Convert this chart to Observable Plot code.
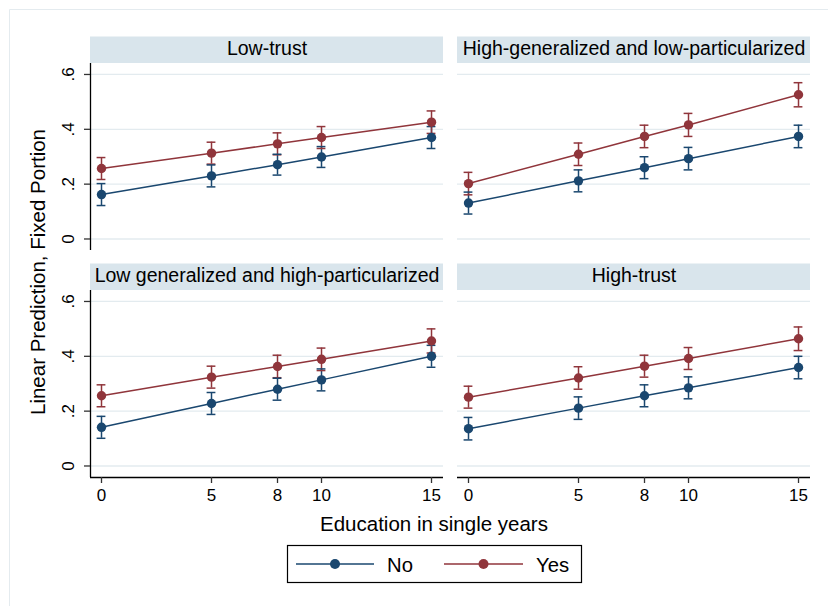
<!DOCTYPE html>
<html>
<head>
<meta charset="utf-8">
<script src="https://cdn.jsdelivr.net/npm/d3@7"></script>
<script src="https://cdn.jsdelivr.net/npm/@observablehq/plot@0.6"></script>
<style>
  html, body { margin: 0; padding: 0; background: #fff; }
  #chart { width: 828px; height: 606px; overflow: hidden; }
</style>
</head>
<body>
<div id="chart"></div>
<script>
// ---- data ----
const panelNames = [
  "Low-trust",
  "High-generalized and low-particularized",
  "Low generalized and high-particularized",
  "High-trust"
];
const education = [0, 5, 8, 10, 15];
const xTicks = [0, 5, 8, 10, 15];
const yTicks = [0, 0.2, 0.4, 0.6];
const yTickLabels = ["0", ".2", ".4", ".6"];
const groups = ["No", "Yes"];

// predicted values per panel, No / Yes
const lowTrustNo  = [0.162, 0.230, 0.271, 0.299, 0.370];
const lowTrustYes = [0.257, 0.313, 0.347, 0.370, 0.426];
const highGenNo   = [0.131, 0.212, 0.260, 0.293, 0.374];
const highGenYes  = [0.202, 0.309, 0.374, 0.416, 0.526];
const lowGenNo    = [0.141, 0.228, 0.280, 0.314, 0.400];
const lowGenYes   = [0.256, 0.324, 0.363, 0.389, 0.456];
const highTrustNo = [0.136, 0.211, 0.256, 0.285, 0.359];
const highTrustYes= [0.251, 0.321, 0.364, 0.392, 0.464];

// 95% CI half-widths
const lowTrustNoCI  = [0.040, 0.040, 0.038, 0.038, 0.040];
const lowTrustYesCI = [0.040, 0.040, 0.040, 0.040, 0.041];
const highGenNoCI   = [0.040, 0.040, 0.040, 0.041, 0.041];
const highGenYesCI  = [0.041, 0.041, 0.041, 0.042, 0.044];
const lowGenNoCI    = [0.040, 0.040, 0.040, 0.040, 0.040];
const lowGenYesCI   = [0.040, 0.040, 0.041, 0.041, 0.044];
const highTrustNoCI = [0.041, 0.041, 0.040, 0.040, 0.041];
const highTrustYesCI= [0.040, 0.041, 0.040, 0.040, 0.043];

const series = [
  [lowTrustNo, lowTrustYes],
  [highGenNo, highGenYes],
  [lowGenNo, lowGenYes],
  [highTrustNo, highTrustYes]
];
const cis = [
  [lowTrustNoCI, lowTrustYesCI],
  [highGenNoCI, highGenYesCI],
  [lowGenNoCI, lowGenYesCI],
  [highTrustNoCI, highTrustYesCI]
];

// ---- build table ----
const rows = [];
panelNames.forEach((p, i) => {
  groups.forEach((g, j) => {
    education.forEach((e, k) => {
      const v = series[i][j][k], c = cis[i][j][k];
      rows.push({panel: p, col: i % 2, row: Math.floor(i / 2), group: g, edu: e, value: v, lo: v - c, hi: v + c});
    });
  });
});
const headers = panelNames.map((p, i) => ({name: p, col: i % 2, row: Math.floor(i / 2)}));
const leftPanels = headers.filter(d => d.col === 0);
const bottomPanels = headers.filter(d => d.row === 1);
const yLabels = [];
leftPanels.forEach(p => yTicks.forEach((t, k) => yLabels.push({col: p.col, row: p.row, value: t, label: yTickLabels[k]})));

// ---- styling ----
const navy = "#1a476f", maroon = "#90353b";
const gridColor = "#e3ebef";
const headerFill = "#d9e5ec";
const xDomain = [-0.5, 15.545];
const yDomain = [-0.042, 0.64];
const pxPerUnit = 187 / (yDomain[1] - yDomain[0]);
const hdr = 26.5 / pxPerUnit;
const cap = 0.2;
const font = "'Liberation Sans', Arial, sans-serif";

const chart = Plot.plot({
  width: 828,
  height: 606,
  marginTop: 63,
  marginBottom: 129,
  marginLeft: 90,
  marginRight: 18,
  style: {fontFamily: font, background: "white", color: "black"},
  x: {domain: xDomain},
  y: {domain: yDomain},
  fx: {domain: [0, 1], axis: null, paddingInner: 14 / 367, paddingOuter: 0, round: false},
  fy: {domain: [0, 1], axis: null, paddingInner: 40 / 227, paddingOuter: 0, round: false},
  color: {domain: groups, range: [navy, maroon]},
  marks: [
    Plot.ruleY(yTicks, {stroke: gridColor, strokeWidth: 1.3}),
    Plot.rect(headers, {fx: "col", fy: "row", x1: xDomain[0], x2: xDomain[1], y1: yDomain[1], y2: yDomain[1] + hdr, fill: headerFill}),
    Plot.text(headers, {fx: "col", fy: "row", text: "name", frameAnchor: "top", dy: -15, fontSize: 19.5, fill: "black", lineAnchor: "middle"}),
    Plot.ruleX(leftPanels, {fx: "col", fy: "row", x: xDomain[0], stroke: "black", strokeWidth: 1.3}),
    Plot.ruleY(bottomPanels, {fx: "col", fy: "row", y: yDomain[0], stroke: "black", strokeWidth: 1.3}),
    Plot.axisY({ticks: yTicks, tickSize: 6, tickFormat: () => "", label: null, stroke: "#333", strokeWidth: 1.3}),
    Plot.text(yLabels, {fx: "col", fy: "row", y: "value", text: "label", frameAnchor: "left", dx: -21.5, rotate: -90, textAnchor: "middle", lineAnchor: "middle", fontSize: 17, fill: "black"}),
    Plot.axisX({ticks: xTicks, tickSize: 6, tickPadding: 5, fontSize: 17, label: null, stroke: "#333", strokeWidth: 1.3, fill: "black"}),
    Plot.ruleX(rows, {fx: "col", fy: "row", x: "edu", y1: "lo", y2: "hi", stroke: "group", strokeWidth: 1.5}),
    Plot.ruleY(rows, {fx: "col", fy: "row", y: "lo", x1: d => d.edu - cap, x2: d => d.edu + cap, stroke: "group", strokeWidth: 1.5}),
    Plot.ruleY(rows, {fx: "col", fy: "row", y: "hi", x1: d => d.edu - cap, x2: d => d.edu + cap, stroke: "group", strokeWidth: 1.5}),
    Plot.line(rows, {fx: "col", fy: "row", x: "edu", y: "value", stroke: "group", z: "group", strokeWidth: 1.5}),
    Plot.dot(rows, {fx: "col", fy: "row", x: "edu", y: "value", fill: "group", r: 4.7})
  ]
});

const svg = d3.select(chart);
// faint outer border
svg.append("line").attr("x1", 9.5).attr("x2", 828).attr("y1", 9.5).attr("y2", 9.5).attr("stroke", "#e4ebef").attr("stroke-width", 1);
svg.append("line").attr("x1", 9.5).attr("x2", 9.5).attr("y1", 9.5).attr("y2", 606).attr("stroke", "#e4ebef").attr("stroke-width", 1);

// axis titles
svg.append("text").text("Linear Prediction, Fixed Portion")
  .attr("transform", "translate(45,272) rotate(-90)")
  .attr("text-anchor", "middle").attr("font-size", 20.5).attr("fill", "black").attr("font-family", font);
svg.append("text").text("Education in single years")
  .attr("x", 434).attr("y", 530.7)
  .attr("text-anchor", "middle").attr("font-size", 20.5).attr("fill", "black").attr("font-family", font);

// legend
const lg = svg.append("g").attr("font-family", font);
lg.append("rect").attr("x", 287.5).attr("y", 545.5).attr("width", 294).attr("height", 37)
  .attr("fill", "white").attr("stroke", "black").attr("stroke-width", 1.2);
const items = [
  {label: groups[0], color: navy, x1: 296, x2: 374, tx: 387},
  {label: groups[1], color: maroon, x1: 444, x2: 523, tx: 536}
];
items.forEach(it => {
  lg.append("line").attr("x1", it.x1).attr("x2", it.x2).attr("y1", 564).attr("y2", 564)
    .attr("stroke", it.color).attr("stroke-width", 1.5);
  lg.append("circle").attr("cx", (it.x1 + it.x2) / 2).attr("cy", 564).attr("r", 5).attr("fill", it.color);
  lg.append("text").text(it.label).attr("x", it.tx).attr("y", 571.5)
    .attr("text-anchor", "start")
    .attr("font-size", 20.3).attr("fill", "black");
});

document.getElementById("chart").appendChild(chart);
</script>
</body>
</html>
